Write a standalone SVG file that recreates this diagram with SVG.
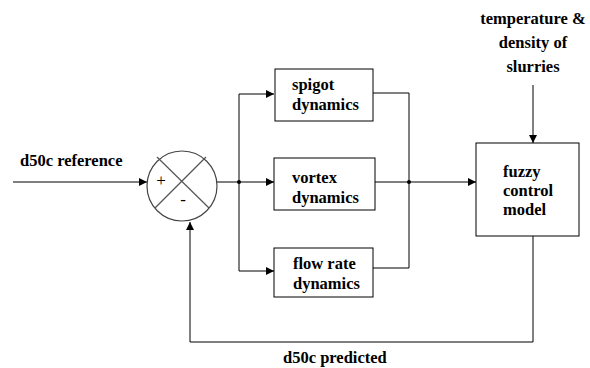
<svg xmlns="http://www.w3.org/2000/svg" width="590" height="368" viewBox="0 0 590 368">
  <defs>
    <marker id="arrow" viewBox="0 0 8 8" refX="8" refY="4" markerWidth="8" markerHeight="8" markerUnits="userSpaceOnUse" orient="auto">
      <path d="M0,0 L8,4 L0,8 Z" fill="#000"/>
    </marker>
  </defs>
  <rect width="590" height="368" fill="#fff"/>

  <!-- connectors: thin black lines, arrowheads from the shared marker -->
  <g id="connectors">
    <g fill="none" stroke="#000" stroke-width="1">
      <line x1="13" y1="182" x2="147" y2="182" marker-end="url(#arrow)"/>
      <line x1="217" y1="182" x2="239" y2="182"/>
      <polyline points="239,94 239,271"/>
      <polyline points="239,94 274,94" marker-end="url(#arrow)"/>
      <polyline points="239,182 274,182" marker-end="url(#arrow)"/>
      <polyline points="239,271 274,271" marker-end="url(#arrow)"/>
      <polyline points="373,93 409,93 409,268 373,268"/>
      <line x1="375" y1="182" x2="409" y2="182"/>
      <line x1="409" y1="182" x2="476" y2="182" marker-end="url(#arrow)"/>
      <line x1="533" y1="85" x2="533" y2="143" marker-end="url(#arrow)"/>
      <polyline points="533,236 533,342 190,342 190,222" marker-end="url(#arrow)"/>
    </g>
    <circle cx="239" cy="182" r="2" fill="#000"/>
    <circle cx="409" cy="182" r="2" fill="#000"/>
    <text x="20" y="166" font-family="'Liberation Serif', serif" font-weight="bold" font-size="16.5">d50c reference</text>
    <text x="283" y="363" font-family="'Liberation Serif', serif" font-weight="bold" font-size="16.5">d50c predicted</text>
    <text x="533" y="24" text-anchor="middle" font-family="'Liberation Serif', serif" font-weight="bold" font-size="16.5">temperature &amp;</text>
    <text x="533" y="48" text-anchor="middle" font-family="'Liberation Serif', serif" font-weight="bold" font-size="16.5">density of</text>
    <text x="533" y="72" text-anchor="middle" font-family="'Liberation Serif', serif" font-weight="bold" font-size="16.5">slurries</text>
  </g>

  <!-- summing junction -->
  <g id="sum">
    <circle cx="182" cy="186" r="35" fill="#fff" stroke="#444" stroke-width="1.2"/>
    <line x1="157" y1="157" x2="209" y2="208" stroke="#555" stroke-width="1.2"/>
    <line x1="206" y1="157" x2="155" y2="208" stroke="#555" stroke-width="1.2"/>
    <text x="161" y="186" text-anchor="middle" font-family="'Liberation Serif', serif" font-size="17">+</text>
    <text x="183" y="205" text-anchor="middle" font-family="'Liberation Serif', serif" font-size="17">-</text>
  </g>

  <g id="spigot">
    <rect x="275" y="69" width="98" height="52" fill="#fff" stroke="#000"/>
    <text x="292" y="90" font-family="'Liberation Serif', serif" font-weight="bold" font-size="16.5">spigot</text>
    <text x="292" y="110" font-family="'Liberation Serif', serif" font-weight="bold" font-size="16.5">dynamics</text>
  </g>

  <g id="vortex">
    <rect x="274" y="158" width="101" height="52" fill="#fff" stroke="#000"/>
    <text x="292" y="183" font-family="'Liberation Serif', serif" font-weight="bold" font-size="16.5">vortex</text>
    <text x="292" y="203" font-family="'Liberation Serif', serif" font-weight="bold" font-size="16.5">dynamics</text>
  </g>

  <g id="flow">
    <rect x="274" y="248" width="99" height="49" fill="#fff" stroke="#000"/>
    <text x="293" y="269" font-family="'Liberation Serif', serif" font-weight="bold" font-size="16.5">flow rate</text>
    <text x="293" y="289" font-family="'Liberation Serif', serif" font-weight="bold" font-size="16.5">dynamics</text>
  </g>

  <g id="fuzzy">
    <rect x="476" y="143" width="103" height="93" fill="#fff" stroke="#000"/>
    <text x="503" y="177" font-family="'Liberation Serif', serif" font-weight="bold" font-size="16.5">fuzzy</text>
    <text x="503" y="196" font-family="'Liberation Serif', serif" font-weight="bold" font-size="16.5">control</text>
    <text x="503" y="215" font-family="'Liberation Serif', serif" font-weight="bold" font-size="16.5">model</text>
  </g>
</svg>
